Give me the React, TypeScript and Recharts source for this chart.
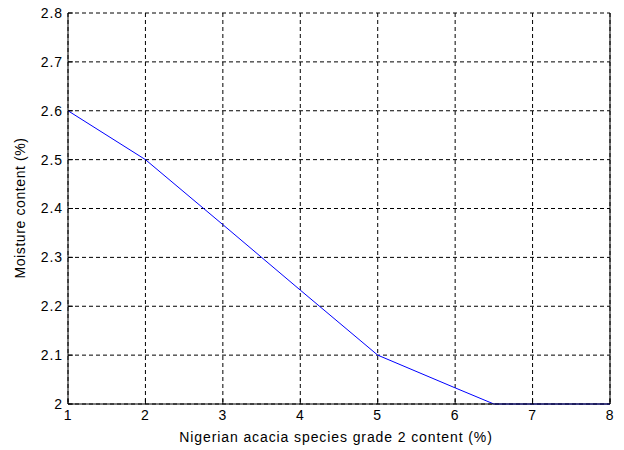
import React from 'react';
import { LineChart, Line, XAxis, YAxis, CartesianGrid } from 'recharts';

// grade 2 content (%) vs moisture content (%)
const gradeContent = [1, 2, 3, 4, 5, 6, 6.5, 7, 8];
const moisture = [2.6, 2.5, 2.367, 2.233, 2.1, 2.033, 2.0, 2.0, 2.0];

const xTicks = [1, 2, 3, 4, 5, 6, 7, 8];
const yTicks = [2, 2.1, 2.2, 2.3, 2.4, 2.5, 2.6, 2.7, 2.8];

const data = gradeContent.map((x, i) => ({ x, y: moisture[i] }));

const font = 'Arial, "Liberation Sans", Helvetica, sans-serif';
const tickStyle = { fontSize: 14, fill: '#000', fontFamily: font, letterSpacing: 0.9 };

const App: React.FC = () => {
  return (
    <div style={{ position: 'absolute', left: 0, top: 0, width: 624, height: 450, background: '#fff' }}>
      <LineChart width={624} height={450} data={data} margin={{ top: 13, right: 0, bottom: 0, left: 0 }}>
        <CartesianGrid stroke="#000" strokeDasharray="4 3" vertical horizontal />
        <XAxis
          dataKey="x"
          type="number"
          domain={[1, 8]}
          ticks={xTicks}
          height={46}
          stroke="#000"
          tickSize={-5}
          tickMargin={11}
          tick={tickStyle}
          interval={0}
          label={{
            content: () => (
              <text
                x={336}
                y={442}
                textAnchor="middle"
                fontSize={14}
                letterSpacing={0.9}
                fontFamily={font}
                fill="#000"
              >
                Nigerian acacia species grade 2 content (%)
              </text>
            ),
          }}
        />
        <XAxis
          xAxisId="top"
          orientation="top"
          dataKey="x"
          type="number"
          domain={[1, 8]}
          ticks={xTicks}
          height={0}
          stroke="#000"
          tickSize={-5}
          tickFormatter={() => ''}
          interval={0}
        />
        <YAxis
          type="number"
          domain={[2, 2.8]}
          ticks={yTicks}
          width={68}
          stroke="#000"
          tickSize={-5}
          tickMargin={10}
          tick={tickStyle}
          interval={0}
          tickFormatter={(v: number) => (v === 2 ? '2' : v.toFixed(1))}
          label={{
            content: () => (
              <text
                x={25}
                y={208}
                transform="rotate(-90 25 208)"
                textAnchor="middle"
                fontSize={14}
                letterSpacing={0.6}
                fontFamily={font}
                fill="#000"
              >
                Moisture content (%)
              </text>
            ),
          }}
        />
        <YAxis
          yAxisId="right"
          orientation="right"
          type="number"
          domain={[2, 2.8]}
          ticks={yTicks}
          width={14}
          stroke="#000"
          tickSize={-5}
          tickFormatter={() => ''}
          interval={0}
        />
        <Line
          type="linear"
          dataKey="y"
          stroke="#0000ff"
          strokeWidth={1}
          dot={false}
          isAnimationActive={false}
        />
      </LineChart>
    </div>
  );
};

export default App;
